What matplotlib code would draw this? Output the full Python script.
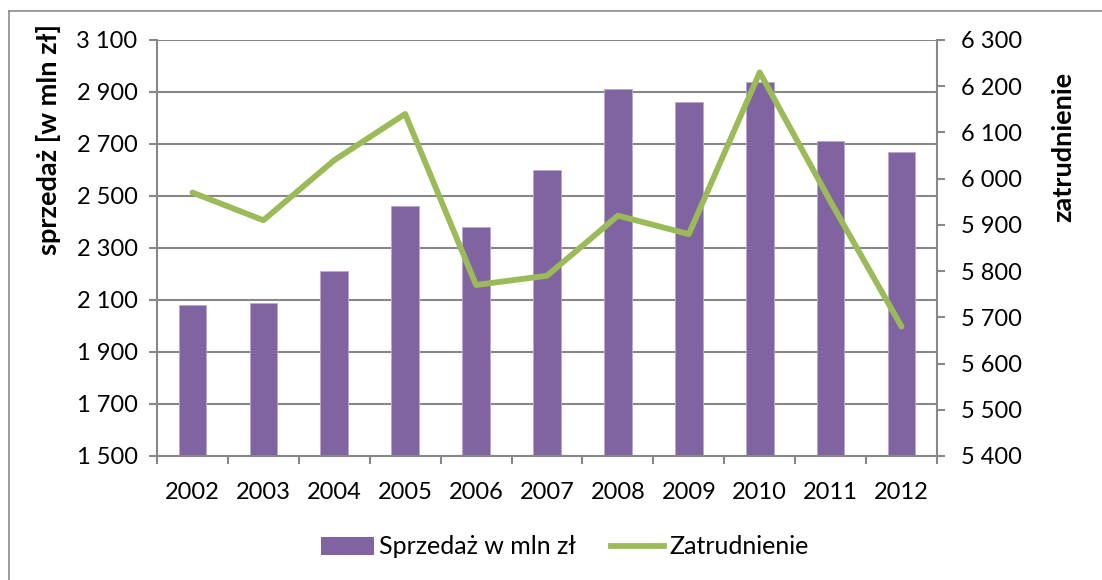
#
# Sprzedaz i zatrudnienie 2002-2012
#

import numpy as np
import matplotlib.pyplot as plt
from matplotlib.lines import Line2D
from matplotlib.patches import Patch

plt.rc('font', family=['Lato', 'DejaVu Sans'], size=17)

# Data
years = ['2002', '2003', '2004', '2005', '2006', '2007', '2008', '2009', '2010', '2011', '2012']
sprzedaz = [2080, 2090, 2210, 2460, 2380, 2600, 2910, 2860, 2940, 2710, 2670]
zatrudnienie = [5970, 5910, 6040, 6140, 5770, 5790, 5920, 5880, 6230, 5950, 5680]

left_ticks = [1500, 1700, 1900, 2100, 2300, 2500, 2700, 2900, 3100]
right_ticks = [5400, 5500, 5600, 5700, 5800, 5900, 6000, 6100, 6200, 6300]

bar_color = '#8064A2'
line_color = '#9BBB59'
grid_color = '#888888'


def spaced(v):
    return '{:,}'.format(v).replace(',', ' ')


W, H = 1102, 580
fig = plt.figure(figsize=(W / 100, H / 100), dpi=100)

# outer chart border (only top and left fall inside the picture)
fig.add_artist(Line2D([9 / W, 1], [1 - 11 / H, 1 - 11 / H], color='#8c8c8c', lw=1.2))
fig.add_artist(Line2D([9 / W, 9 / W], [0, 1 - 11 / H], color='#8c8c8c', lw=1.2))

ax = fig.add_axes([157 / W, (H - 456) / H, 780 / W, 416 / H])
x = np.arange(len(years))
ax.bar(x, sprzedaz, width=0.39, color=bar_color, edgecolor='#b9a9cc', linewidth=0.6, zorder=2)
ax.set_ylim(1500, 3100)
ax.set_xlim(-0.5, len(years) - 0.5)
ax.set_yticks(left_ticks)
ax.set_yticklabels([spaced(v) for v in left_ticks])
ax.yaxis.grid(True, color=grid_color, lw=1.5, zorder=0)
ax.set_axisbelow(True)

# category ticks sit between the bars, labels at the centres
ax.set_xticks(np.arange(-0.5, len(years), 1.0))
ax.set_xticklabels([])
ax.set_xticks(x, minor=True)
ax.set_xticklabels(years, minor=True)
ax.tick_params(axis='x', which='minor', length=0, pad=19)
ax.tick_params(axis='x', which='major', length=6, width=1.5, color=grid_color)
ax.tick_params(axis='y', length=6, width=1.5, color=grid_color, pad=8)

for s in ['top', 'right']:
    ax.spines[s].set_visible(False)
for s in ['left', 'bottom']:
    ax.spines[s].set_color(grid_color)
    ax.spines[s].set_linewidth(1.5)

# axis titles sit in the upper part, as in the original
ax.set_ylabel('sprzedaż [w mln zł]', fontweight='bold', fontsize=19.5)
ax.yaxis.set_label_coords(-0.123, 0.761)

# second axis: employment
ax2 = ax.twinx()
ax2.plot(x, zatrudnienie, color=line_color, lw=4.2, solid_capstyle='round', zorder=3)
ax2.set_ylim(5400, 6300)
ax2.set_yticks(right_ticks)
ax2.set_yticklabels([spaced(v) for v in right_ticks])
ax2.tick_params(axis='y', length=6, width=1.5, color=grid_color, pad=11)
for s in ['top', 'left', 'bottom']:
    ax2.spines[s].set_visible(False)
ax2.spines['right'].set_color(grid_color)
ax2.spines['right'].set_linewidth(1.5)
ax2.set_ylabel('zatrudnienie', fontweight='bold', fontsize=19.5)
ax2.yaxis.set_label_coords(1.147, 0.744)

handles = [Patch(facecolor=bar_color, edgecolor='none'),
           Line2D([0], [0], color=line_color, lw=4.2)]
fig.legend(handles, ['Sprzedaż w mln zł', 'Zatrudnienie'], loc='center', fontsize=18,
           bbox_to_anchor=(565 / W, (H - 547) / H), ncol=2, frameon=False,
           handlelength=2.1, handletextpad=0.22, columnspacing=1.4)

plt.savefig('out.png', dpi=100)
